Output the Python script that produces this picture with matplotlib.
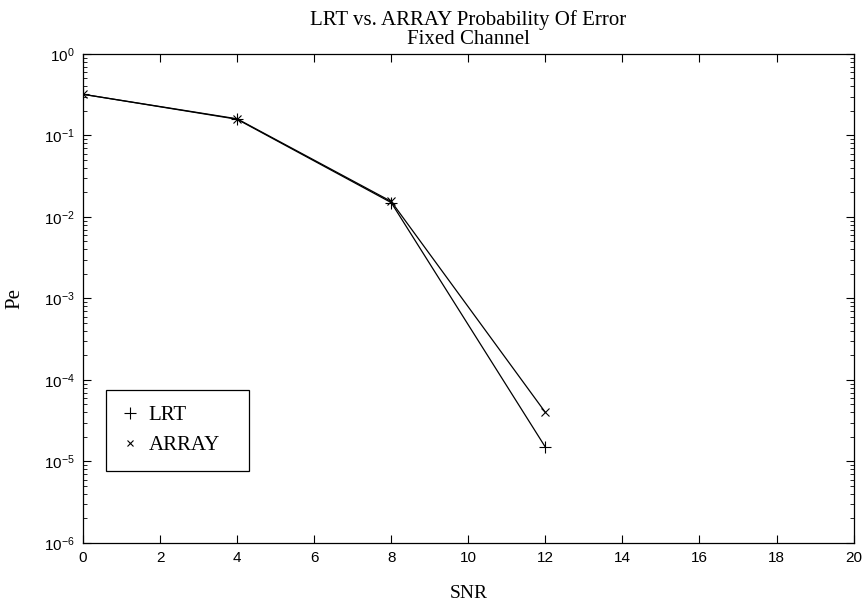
import matplotlib
matplotlib.use("Agg")
import matplotlib.pyplot as plt
from matplotlib.lines import Line2D
from matplotlib.ticker import LogLocator, NullFormatter

# values
snr = [0, 4, 8, 12]
pe_lrt = [0.32, 0.158, 0.0150, 1.5e-5]
pe_array = [0.32, 0.160, 0.0155, 4.0e-5]

SERIF = ["Liberation Serif", "DejaVu Serif"]
SANS = ["Liberation Sans", "DejaVu Sans"]

plt.rcParams.update({
    "font.family": SANS,
    "mathtext.fontset": "custom",
    "mathtext.rm": "Liberation Sans",
    "xtick.direction": "in", "ytick.direction": "in",
    "xtick.top": True, "ytick.right": True,
    "axes.linewidth": 0.9,
})

fig = plt.figure(figsize=(8.64, 6.06), dpi=100)
ax = fig.add_axes([0.096, 0.104, 0.892, 0.807])

ax.plot(snr, pe_lrt, "-", color="black", linewidth=0.9, marker="+",
        markersize=8, markeredgewidth=0.8)
ax.plot(snr, pe_array, "-", color="black", linewidth=0.9, marker="x",
        markersize=6, markeredgewidth=0.8)

ax.set_yscale("log")
ax.set_xlim(0, 20)
ax.set_ylim(1e-6, 1)
ax.set_xticks(range(0, 21, 2))
ax.set_yticks([10.0 ** k for k in range(-6, 1)])
ax.yaxis.set_minor_locator(LogLocator(base=10, subs=range(2, 10), numticks=10))
ax.yaxis.set_minor_formatter(NullFormatter())
ax.tick_params(which="major", length=6, width=0.8, labelsize=11, pad=6)
ax.tick_params(which="minor", length=3, width=0.6)

ax.set_xlabel("SNR", fontfamily=SERIF, fontsize=14, labelpad=14)
ax.set_ylabel("Pe", fontfamily=SERIF, fontsize=15, labelpad=14)
ax.set_title("LRT vs. ARRAY Probability Of Error\nFixed Channel",
             fontfamily=SERIF, fontsize=15, linespacing=1.05, pad=7)

handles = [Line2D([], [], color="black", marker="+", linestyle="none",
                  markersize=8, markeredgewidth=0.8),
           Line2D([], [], color="black", marker="x", linestyle="none",
                  markersize=5, markeredgewidth=0.8)]
leg = ax.legend(handles, ["LRT", "ARRAY"], loc="lower left", mode="expand",
                bbox_to_anchor=(0.0298, 0.147, 0.1855, 0.168),
                prop={"family": SERIF, "size": 15},
                fancybox=False, edgecolor="black", framealpha=1,
                handlelength=0.8, handletextpad=0.5, borderpad=0.75,
                labelspacing=0.5, borderaxespad=0)
leg.get_frame().set_linewidth(0.9)

fig.savefig("out.png", dpi=100)
